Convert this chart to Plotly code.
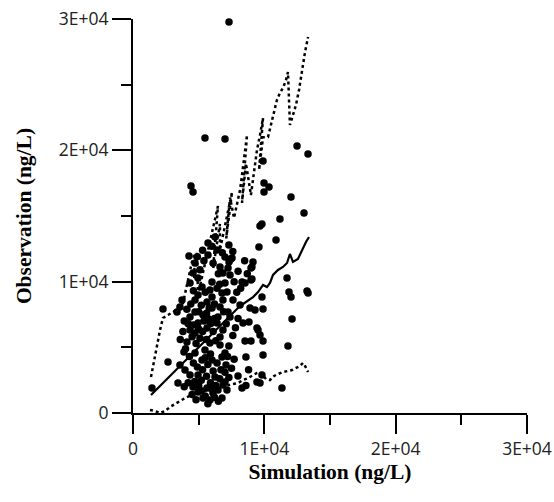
import plotly.graph_objects as go

# Observed vs simulated concentrations (ng/L)
obs_sim = [7310, 5480, 7005, 12490, 13325, 9900, 4415, 4570, 9975, 10355, 9975, 12030, 13020,
           9820, 9670, 11190, 10890, 9590, 4265, 7460, 9135, 8985, 7235, 11725, 11880, 12030,
           13250, 13330, 12110, 11800, 11340, 9820, 9900, 8985, 9520, 9900, 9900, 8530, 8985,
           8600, 8375, 8830, 7995, 2285, 2665, 1445, 3880, 3425,
           4720, 4570, 4950, 4340, 5255, 6015, 5860, 4950, 4720, 5635, 6015, 6625, 6850, 6395,
           5710, 5710, 6245, 7005, 7005, 6775, 6015, 3730, 3575, 3350, 4720, 5330, 6625, 6470,
           7540, 7310, 9060, 7385, 8300, 8530, 9060, 7155, 6850, 7615, 9290, 8910, 7235, 8150,
           3575, 4340, 4570, 4950, 5635, 6090, 6470, 6775, 5330, 5860, 4340, 4720, 4950, 4340,
           5635, 6395, 6625, 5860, 5480, 5255, 6015, 6775, 4720, 3960, 4950, 6245, 7005, 4110,
           9440, 9670, 7005, 7080, 6850, 7155, 8300, 9440, 9820, 9670, 7385, 6850, 6625,
           5000, 5200, 5400, 5600, 5800, 6200, 6400, 6600, 5500, 5100, 5400, 6100, 6500, 6800,
           6000, 5300, 4900, 4600, 4400, 4100, 3900, 4200, 4500, 4800, 5100, 5300, 5600, 6100,
           6300, 5900, 6200, 5700, 5000, 4600, 3800, 3600, 4000, 4300, 4600, 4900, 5300, 5700,
           6100, 6400, 5900, 5500, 5200, 5600, 5900, 6300, 6600, 5000, 4700, 4200, 3900, 4500,
           5200, 5500, 6200, 6500, 4800, 5700, 6000, 6700, 7000, 7300, 7500, 7700, 7300, 7600,
           7800, 8000, 7900, 8200, 7700, 8000, 7600, 7300, 8500, 8700, 6900, 7100, 7200, 8600,
           8800]
obs_val = [29770, 20940, 20860, 20330, 19720, 19190, 17280, 16830, 17510, 17210, 16830, 16450, 15230,
           14390, 14240, 14770, 13170, 12640, 11950, 11730, 11500, 11040, 11040, 10280, 9210, 8830,
           9290, 9140, 7160, 5100, 1900, 8830, 7920, 10130, 6320, 5480, 4420, 5480, 5480,
           4265, 6850, 6930, 2820, 7920, 3880, 1900, 4645, 2285,
           11420, 10660, 10280, 9900, 9590, 9975, 9365, 8985, 8600, 8450, 8830, 11115, 10660, 12410,
           12030, 12940, 13400, 11880, 9900, 9135, 7995, 8600, 8070, 7690, 7690, 7460, 8070, 7310,
           11800, 11500, 11115, 10510, 9975, 9900, 10200, 9210, 8600, 8600, 7840, 7995, 7690, 8220,
           3655, 2890, 1980, 1600, 1900, 1520, 1750, 1140, 1140, 990, 6320, 6090, 6850, 7310,
           6470, 6850, 5790, 5330, 4800, 4035, 4035, 4265, 4570, 3275, 2890, 2740, 2360, 5405,
           6470, 5940, 4570, 3655, 2130, 1750, 1900, 2360, 2890, 2285, 7310, 6320, 5180,
           7700, 8200, 7000, 7600, 8000, 8300, 9500, 9800, 9200, 10900, 11600, 11400, 10600, 12200,
           12700, 12400, 11900, 9300, 8300, 7900, 7000, 6800, 5800, 5300, 5700, 6200, 5600, 6200,
           5500, 6800, 7200, 7200, 6400, 6700, 6200, 5600, 4900, 4300, 3800, 3500, 3300, 3700,
           3200, 3800, 4500, 4200, 2500, 2800, 2300, 2100, 2600, 2100, 2400, 2300, 2000, 1400,
           1700, 1300, 1200, 900, 1000, 700, 1800, 3300, 3100, 2700, 3400, 4100, 5100, 5900,
           6500, 7200, 9200, 9500, 10000, 10800, 12300, 12800, 11600, 10600, 7700, 6800, 4300, 2100,
           3300]

# Median prediction
med_sim = [1370, 1830, 2280, 2670, 3050, 3430, 3810, 4190, 4570, 4950, 5330, 5710, 6090, 6470,
           6850, 7230, 7610, 7990, 8380, 8760, 9140, 9520, 9900, 10200, 10430, 10660, 11040,
           11420, 11730, 11950, 12180, 12560, 12940, 13170, 13400]
med_val = [1370, 1830, 2280, 2670, 3050, 3430, 3810, 4190, 4570, 4950, 5330, 5710, 6090, 6470,
           6930, 7230, 7610, 7990, 8300, 8600, 8830, 9210, 9750, 9590, 9900, 10510, 10890,
           11120, 11420, 12110, 11500, 11730, 12560, 13020, 13400]

# Upper percentile
up_sim = [1370, 1750, 2060, 2280, 2820, 3430, 3810, 4040, 4260, 4490, 4720,
          4650, 4800, 4870,
          4950, 5150, 5330, 5560, 5790, 6020, 6240, 6470,
          6100, 6300, 6450, 6620,
          6620, 6850, 7080, 7310, 7540,
          7100, 7250, 7390,
          7690, 7920, 8150, 8300, 8450, 8600, 8680,
          8300, 8450, 8600,
          8980, 9140, 9290, 9440, 9670, 9900,
          9600, 9750, 9900,
          10280, 10510, 10740, 10960, 11190, 11420, 11650, 11800,
          11950, 12180, 12410, 12640, 12870, 13100, 13330]
up_val = [2740, 4800, 6320, 7230, 7540, 7920, 8380, 9370, 10430, 11500, 12110,
          10200, 11200, 12200,
          9000, 9900, 10740, 11800, 12790, 13780, 14850, 15760,
          11000, 12200, 13300, 14400,
          12410, 13550, 14700, 15840, 16830,
          13300, 14800, 16400,
          14850, 15840, 16980, 18120, 19260, 20410, 21170,
          16000, 17500, 19000,
          16600, 17740, 18880, 20020, 21170, 22460,
          18500, 20000, 21000,
          21010, 21930, 22920, 23830, 24360, 24750, 25350, 25960,
          21930, 22690, 23450, 24590, 26120, 27490, 28630]

# Lower percentile
lo_sim = [1290, 1680, 2060, 2440, 2820, 3430, 3960, 4490, 5100, 5710, 6240, 6780, 7230, 7610,
          7990, 8380, 8760, 9140, 9440, 9670, 9900, 10130, 10430, 10740, 11040, 11420, 11800,
          12110, 12410, 12720, 12940, 13100, 13330]
lo_val = [230, 150, 0, 150, 460, 840, 1140, 1370, 1600, 1750, 1830, 1980, 2130, 2210,
          2280, 2510, 2660, 2890, 3050, 3120, 2820, 2590, 2510, 2820, 2970, 3120, 3200,
          3270, 3430, 3580, 3810, 3580, 3120]

tick_vals = [0, 10000, 20000, 30000]
tick_text = ["0", "1E+04", "2E+04", "3E+04"]

fig = go.Figure()
fig.add_trace(go.Scatter(x=obs_sim, y=obs_val, mode="markers",
                         marker=dict(color="black", size=7.5), cliponaxis=False,
                         showlegend=False))
fig.add_trace(go.Scatter(x=up_sim, y=up_val, mode="lines",
                         line=dict(color="black", width=2.5, dash="dot"), showlegend=False))
fig.add_trace(go.Scatter(x=lo_sim, y=lo_val, mode="lines",
                         line=dict(color="black", width=2.5, dash="dot"), showlegend=False))
fig.add_trace(go.Scatter(x=med_sim, y=med_val, mode="lines",
                         line=dict(color="black", width=2.2), showlegend=False))

axis_common = dict(
    range=[0, 30000], tickvals=tick_vals, ticktext=tick_text,
    showline=True, linecolor="black", linewidth=2,
    ticks="outside", ticklen=19, tickwidth=1.5, tickcolor="black",
    showgrid=False, zeroline=False, automargin=False,
    ticklabeloverflow="allow",
    tickfont=dict(family="Open Sans", size=17.5, color="#222"),
    minor=dict(dtick=5000, tick0=0, ticks="outside", ticklen=10, tickwidth=1.5,
               tickcolor="black", showgrid=False),
)

fig.update_layout(
    width=554, height=502,
    margin=dict(l=133, r=27, t=19, b=89),
    plot_bgcolor="white", paper_bgcolor="white",
    xaxis=dict(**axis_common,
               title=dict(text="Simulation (ng/L)",
                          font=dict(family="Liberation Serif", size=21.5, color="black", weight="bold"),
                          standoff=0)),
    yaxis=dict(**axis_common,
               title=dict(text="Observation (ng/L)",
                          font=dict(family="Liberation Serif", size=21.5, color="black", weight="bold"),
                          standoff=21)),
)

# remove the default page margin so the figure sits at the window's top-left corner
fig.write_html("out.html", config={"displayModeBar": False},
               post_script="document.body.style.margin='0';")
